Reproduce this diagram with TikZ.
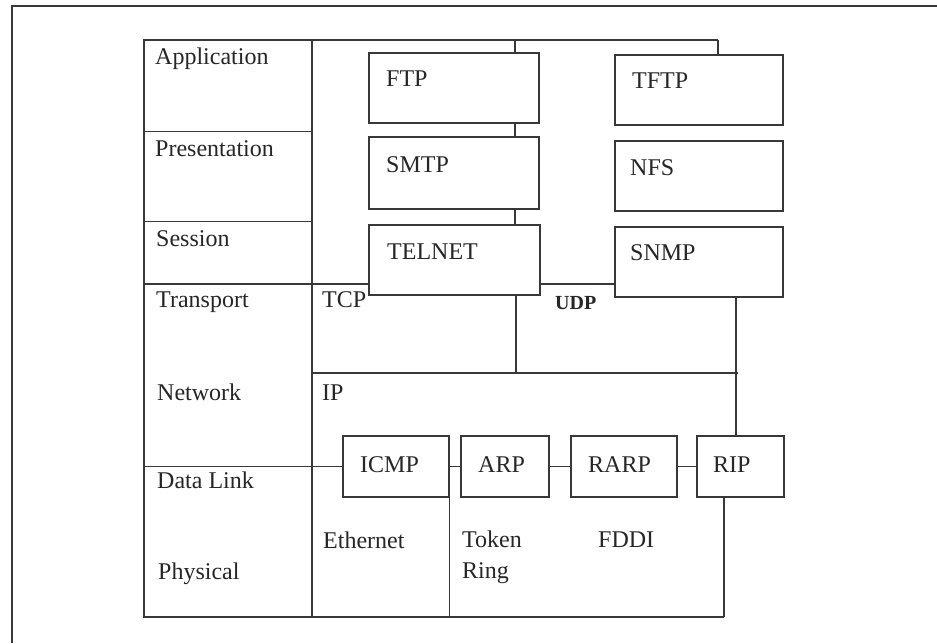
\documentclass[tikz,border=0pt]{standalone}
\usepackage{fontspec}
\setmainfont{Liberation Serif}
\begin{document}
\begin{tikzpicture}[x=1pt,y=-1pt,
  ln/.style={draw=black!78, line width=1.3pt},
  box/.style={ln, rectangle, inner sep=0pt},
  txt/.style={inner sep=0pt, anchor=base west, text=black!85, font=\fontsize{24}{29}\selectfont},
  btxt/.style={txt, font=\fontsize{20}{24}\selectfont\bfseries}]
\useasboundingbox (0,0) rectangle (937,643);
% page frame
\draw[ln] (937,6) -- (12,6) -- (12,643);
% boxes
\node[box, minimum width=170pt, minimum height=70pt] (ftp) at (454,88) {};
\node[box, minimum width=170pt, minimum height=72pt] (smtp) at (454,173) {};
\node[box, minimum width=171pt, minimum height=70pt] (telnet) at (454.5,260) {};
\node[box, minimum width=168pt, minimum height=70pt] (tftp) at (699,90) {};
\node[box, minimum width=168pt, minimum height=70pt] (nfs) at (699,176) {};
\node[box, minimum width=168pt, minimum height=70pt] (snmp) at (699,262) {};
\node[box, minimum width=106pt, minimum height=61pt] (icmp) at (396,466.5) {};
\node[box, minimum width=88pt, minimum height=61pt] (arp) at (505,466.5) {};
\node[box, minimum width=106pt, minimum height=61pt] (rarp) at (624,466.5) {};
\node[box, minimum width=87pt, minimum height=61pt] (rip) at (740.5,466.5) {};
% layer column
\coordinate (colTL) at (144,40);
\coordinate (colBR) at (312,617);
\draw[ln] (colTL) rectangle (colBR);
\draw[ln] (144,131.5) -- (312,131.5);
\draw[ln] (144,221.5) -- (312,221.5);
% stack frame
\coordinate (busR) at (718,40);
\coordinate (t1) at (515,40);
\coordinate (u) at (144,284);
\coordinate (ipL) at (312,373);
\coordinate (ipR) at (738,373);
\coordinate (x1) at (516,295);
\coordinate (x2) at (736,0);
\coordinate (bot) at (144,617);
\coordinate (botR) at (724,617);
\draw[ln] (312,40) -- (busR);
\draw[ln] (t1) -- (t1 |- ftp.north);
\draw[ln] (busR) -- (busR |- tftp.north);
\draw[ln] (t1 |- ftp.south) -- (t1 |- smtp.north);
\draw[ln] (t1 |- smtp.south) -- (t1 |- telnet.north);
\draw[ln] (u) -- (u -| telnet.west);
\draw[ln] (u -| telnet.east) -- (u -| snmp.west);
\draw[ln] (x1) -- (x1 |- ipL);
\draw[ln] (ipL) -- (ipR);
\draw[ln] (x2 |- snmp.south) -- (x2 |- rip.north);
\draw[ln] (144,466.5) -- (icmp.west);
\draw[ln] (icmp.east) -- (arp.west);
\draw[ln] (arp.east) -- (rarp.west);
\draw[ln] (rarp.east) -- (rip.west);
\draw[ln] (icmp.south east) -- (icmp.south east |- bot);
\draw[ln] (botR |- rip.south) -- (botR);
\draw[ln] (bot) -- (botR);
% labels
\node[txt] (lapp) at (155,64) {Application};
\node[txt] (lpre) at (155,156) {Presentation};
\node[txt] (lses) at (156,246) {Session};
\node[txt] (ltra) at (156,307) {Transport};
\node[txt] (lnet) at (157,400) {Network};
\node[txt] (ldl) at (157,488) {Data Link};
\node[txt] (lphy) at (158,579) {Physical};
\node[txt] (lftp) at (386,86) {FTP};
\node[txt] (lsmtp) at (386,172) {SMTP};
\node[txt] (ltel) at (387,259) {TELNET};
\node[txt] (ltftp) at (632,88) {TFTP};
\node[txt] (lnfs) at (630,175) {NFS};
\node[txt] (lsnmp) at (630,260) {SNMP};
\node[btxt] (ludp) at (555,309) {UDP};
\node[txt] (ltcp) at (322,307) {TCP};
\node[txt] (lip) at (322,400) {IP};
\node[txt] (licmp) at (360,472) {ICMP};
\node[txt] (larp) at (478,472) {ARP};
\node[txt] (lrarp) at (588,472) {RARP};
\node[txt] (lrip) at (713,472) {RIP};
\node[txt] (leth) at (323,548) {Ethernet};
\node[txt] (ltok) at (462,547) {Token};
\node[txt] (lring) at (462,578) {Ring};
\node[txt] (lfddi) at (598,547) {FDDI};
\end{tikzpicture}
\end{document}
